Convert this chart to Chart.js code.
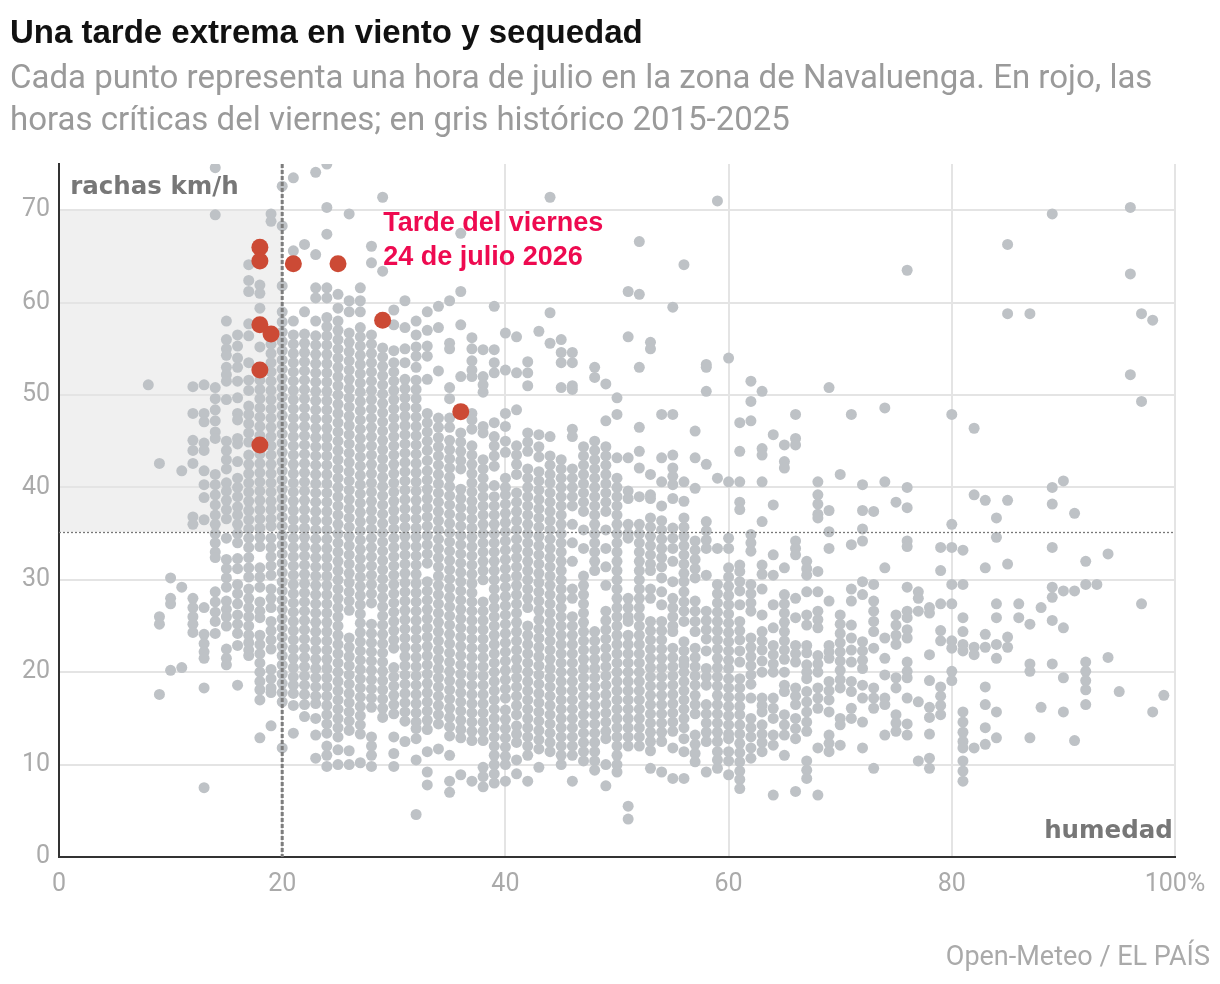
<!DOCTYPE html>
<html><head><meta charset="utf-8">
<script src="https://cdn.jsdelivr.net/npm/chart.js@4.4.1/dist/chart.umd.min.js"></script>
<style>
html,body{margin:0;padding:0;background:#fff;width:1220px;height:984px;overflow:hidden;}
#wrap{position:relative;width:1220px;height:984px;}
canvas{position:absolute;left:0;top:0;}
.t{position:absolute;left:10px;top:13px;font:700 33px "Liberation Sans", Arial, sans-serif;color:#111;white-space:nowrap;}
.s{position:absolute;left:10px;top:56px;font:400 33px/42px Roboto, sans-serif;color:#9a9a9a;white-space:nowrap;}
.src{position:absolute;right:10px;top:940px;font:400 27px Roboto, sans-serif;color:#aaa;white-space:nowrap;}
</style></head>
<body><div id="wrap"><canvas id="c" width="1220" height="984"></canvas>
<div class="t">Una tarde extrema en viento y sequedad</div>
<div class="s">Cada punto representa una hora de julio en la zona de Navaluenga. En rojo, las<br>horas críticas del viernes; en gris histórico 2015-2025</div>
<div class="src">Open-Meteo / EL PAÍS</div></div>
<script>
// ---- DATA: [humidity %, [gusts km/h ...]] ----
const histDry = [
 [8,[51.1]],
 [9,[42.6,26.0,25.2,17.6]],
 [10,[30.2,28.0,27.4,20.2]],
 [11,[41.8,29.2,20.5]],
 [12,[50.9,48.0,45.1,44.0,42.6,36.8,36.0,28.0,27.0,26.0,25.2,24.3]],
 [13,[51.1,48.0,47.1,44.8,44.0,41.8,40.3,38.9,36.5,27.0,24.1,23.1,22.2,21.5,18.3,7.5]],
 [14,[74.6,69.5,50.8,49.6,48.4,47.2,46.0,45.3,41.4,40.3,39.2,38.1,37.0,36.0,35.0,34.0,33.0,32.4,28.7,27.6,26.5,25.5,24.2]],
 [15,[58.0,56.0,55.0,54.3,53.0,52.2,51.5,49.5,45.0,44.0,43.0,42.0,40.5,39.6,38.6,37.6,36.6,34.5,32.2,31.2,30.2,29.2,27.7,26.8,26.0,25.0,22.5,21.5,20.8]],
 [16,[56.5,55.3,54.0,53.0,51.5,49.7,48.0,47.3,45.3,44.7,42.8,41.0,40.0,39.0,37.9,37.0,36.0,35.0,34.0,32.3,31.2,29.5,28.5,27.4,26.2,25.2,24.2,22.9,18.6]],
 [17,[64.1,62.4,61.2,57.7,56.4,53.5,51.6,50.5,48.8,47.9,46.9,45.9,44.9,43.5,42.5,41.5,40.5,39.5,38.5,37.5,36.5,35.5,34.5,33.5,32.4,31.3,30.3,29.0,28.0,27.0,26.0,25.0,24.0,23.2,22.4,21.8]],
 [18,[61.9,61.0,59.4,55.2,51.6,50.6,49.6,48.6,47.6,46.6,45.6,43.6,42.6,41.6,40.6,39.6,38.6,37.6,36.6,35.6,34.6,33.6,31.3,30.3,29.2,27.6,26.6,25.9,24.0,23.0,22.0,21.0,20.0,19.0,18.1,17.0,12.9]],
 [19,[69.6,68.8,55.5,54.5,53.5,52.5,51.5,50.5,49.5,48.5,47.5,46.5,45.5,44.5,43.5,42.5,41.5,40.5,39.5,38.5,37.6,36.6,35.8,34.5,33.5,32.5,31.5,30.5,29.0,28.0,27.0,25.5,24.5,23.5,22.5,20.3,19.3,18.3,17.8,14.2]]
];
const histA = [
 [20,[72.6,68.3,61.8,59.0,57.9,56.8,55.8,54.8,53.8,52.8,51.8,50.8,49.8,48.8,47.8,46.8,45.8,44.8,43.8,42.8,41.8,40.8,39.8,38.8,37.8,36.8,35.8,34.8,33.8,32.8,31.8,30.8,29.8,28.8,27.8,26.8,25.8,24.8,23.8,22.8,21.8,20.8,19.8,18.8,17.8,16.8,11.8]],
 [21,[73.5,65.6,58.0,56.5,55.5,54.5,53.5,52.5,51.5,50.5,49.5,48.5,47.5,46.5,45.5,44.5,43.5,42.5,41.5,40.5,39.5,38.5,37.5,36.5,35.5,34.5,33.5,32.5,31.5,30.5,29.5,28.5,27.5,26.5,25.5,24.5,23.5,22.5,21.5,20.5,19.5,18.6,17.7,16.4,13.4]],
 [22,[66.3,59.0,56.6,55.6,54.6,53.6,52.6,51.6,50.6,49.6,48.6,47.6,46.6,45.6,44.6,43.6,42.6,41.6,40.6,39.6,38.6,37.6,36.6,35.6,34.6,33.6,32.6,31.6,30.6,29.6,28.6,27.6,26.6,25.6,24.6,23.6,22.6,21.6,20.6,19.6,18.6,17.6,16.5,15.2]],
 [23,[74.1,65.2,61.6,60.5,58.0,56.4,55.4,54.4,53.4,52.4,51.4,50.4,49.4,48.4,47.4,46.4,45.4,44.4,43.4,42.4,41.4,40.4,39.4,38.4,37.4,36.4,35.4,34.4,33.4,32.4,31.4,30.4,29.4,28.4,27.4,26.4,25.4,24.4,23.4,22.4,21.4,20.4,19.4,18.4,17.4,16.6,15.0,13.2,10.7]],
 [24,[75.0,70.3,67.4,61.6,60.5,58.4,57.4,56.4,55.4,54.4,53.4,52.4,51.4,50.4,49.4,48.4,47.4,46.4,45.4,44.4,43.4,42.4,41.4,40.4,39.4,38.4,37.4,36.4,35.4,34.4,33.4,32.4,31.4,30.4,29.4,28.4,27.4,26.4,25.4,24.4,23.4,22.4,21.4,20.4,19.4,18.4,17.4,16.4,15.4,14.4,13.4,12.0,11.0,9.8]],
 [25,[60.9,59.4,58.0,57.0,56.0,55.0,54.0,53.0,52.0,51.0,50.0,49.0,48.0,47.0,46.0,45.0,44.0,43.0,42.0,41.0,40.0,39.0,38.0,37.0,36.0,35.0,34.0,33.0,32.0,31.0,30.0,29.0,28.0,27.0,26.0,25.0,24.0,23.0,22.0,21.0,20.0,19.0,18.0,17.0,16.0,15.0,14.0,13.0,11.6,10.0]],
 [26,[69.6,60.2,59.0,56.7,55.7,54.7,53.7,52.7,51.7,50.7,49.7,48.7,47.7,46.7,45.7,44.7,43.7,42.7,41.7,40.7,39.7,38.7,37.7,36.7,35.7,34.7,33.7,32.7,31.7,30.7,29.7,28.7,27.7,26.7,23.7,22.7,21.7,20.7,19.7,18.7,17.7,16.7,15.7,14.7,13.7,11.5,10.0]],
 [27,[61.6,60.2,59.0,57.3,56.3,55.3,54.3,53.3,52.3,51.3,50.3,49.3,48.3,47.3,46.3,45.3,44.3,43.3,42.3,41.3,40.3,39.3,38.3,37.3,36.3,35.3,34.3,33.3,32.3,31.3,30.3,29.3,28.3,27.3,26.3,25.3,24.3,23.3,22.3,21.3,20.3,19.3,18.3,17.3,16.3,15.3,14.3,13.3,10.2]],
 [28,[66.1,64.3,56.5,55.5,54.5,53.5,52.5,51.5,50.5,49.5,48.5,47.5,46.5,45.5,44.5,43.5,42.5,41.5,40.5,39.5,38.5,37.5,36.5,35.5,34.5,33.5,32.5,31.5,30.5,29.5,28.5,27.5,25.2,24.2,23.2,22.2,21.2,20.2,19.2,18.2,17.2,16.2,13.0,12.0,11.0,9.8]],
 [29,[71.4,63.4,55.1,54.1,53.1,52.1,51.1,50.1,49.1,48.1,47.1,46.1,45.1,44.1,43.1,42.1,41.1,40.1,39.1,38.1,37.1,36.1,35.1,34.1,33.1,32.1,31.1,30.1,29.1,28.1,27.1,26.1,25.1,24.1,23.1,22.1,21.1,20.1,19.1,18.1,17.1,16.1,15.1]]
];
const histB = [
 [30,[59.2,57.6,54.8,53.5,52.5,51.5,50.5,49.5,48.5,47.5,46.5,45.5,44.5,43.5,42.5,41.5,40.5,39.5,38.5,37.5,36.5,35.5,34.5,33.5,32.5,31.5,30.5,29.5,28.5,27.5,26.5,25.5,24.5,23.5,22.6,20.5,19.5,18.5,17.5,16.5,15.5,13.0,11.2,9.8]],
 [31,[60.2,57.3,55.0,53.5,51.7,50.7,49.7,48.7,47.7,46.7,45.7,44.7,43.7,42.7,41.7,40.7,39.7,38.7,37.7,36.7,35.7,34.7,33.7,32.7,31.7,30.7,29.7,28.7,27.7,26.7,25.7,24.7,23.7,22.7,21.7,20.7,19.7,18.7,17.7,16.7,15.7,14.7,12.5]],
 [32,[58.0,56.5,55.2,54.2,53.0,51.6,50.6,49.6,48.6,47.6,46.6,45.6,44.6,43.6,42.6,41.6,40.6,39.6,38.6,37.6,36.6,35.6,34.6,33.6,32.6,31.6,30.6,29.6,28.6,27.6,26.6,25.6,24.6,23.6,22.6,21.6,20.6,19.6,18.6,17.6,16.6,15.6,14.6,13.9,12.8,10.5,4.6]],
 [33,[59.0,57.0,55.3,54.2,51.7,48.0,47.0,46.0,45.0,44.0,42.9,41.8,40.8,39.8,38.8,37.8,36.8,35.8,34.8,33.8,32.8,31.8,29.8,28.8,27.8,26.8,25.8,24.8,23.8,22.8,21.8,20.8,19.8,18.8,17.8,16.8,15.8,14.8,13.8,11.4,9.2,7.8]],
 [34,[59.6,57.3,52.6,47.5,46.5,45.4,44.4,43.4,42.4,41.4,40.4,39.4,38.4,37.4,36.4,35.4,34.4,33.4,32.4,31.4,30.4,29.4,28.4,27.4,26.4,25.4,24.4,23.4,22.4,21.4,20.4,19.4,18.4,17.4,16.4,15.4,14.4,11.7]],
 [35,[60.2,55.6,55.0,50.8,49.6,47.5,46.5,45.1,44.1,43.1,42.1,41.1,40.1,39.1,38.1,37.1,36.1,35.1,34.1,33.1,32.1,31.1,30.1,29.1,28.1,27.1,26.1,25.1,24.1,23.1,22.1,21.1,20.1,19.1,18.1,17.1,16.1,15.1,14.1,13.1,11.0,8.2,7.0]],
 [36,[67.5,61.2,57.6,52.0,45.9,44.9,43.9,42.9,42.0,39.8,38.8,37.8,36.8,35.8,34.8,33.8,32.8,31.8,30.8,29.8,28.8,27.8,26.8,25.8,24.8,23.8,22.8,21.8,20.8,19.8,18.8,17.8,16.8,15.8,14.8,13.8,12.9,8.9]],
 [37,[56.2,55.0,53.7,52.7,52.0,48.0,47.3,46.3,44.5,43.5,42.5,41.5,40.5,39.5,38.5,37.6,36.6,35.6,34.6,33.6,32.6,31.6,30.6,29.6,28.6,27.6,26.6,25.6,24.6,23.6,22.6,21.6,20.6,19.6,18.6,17.6,16.6,15.6,14.6,13.6,12.6,8.2]],
 [38,[54.9,52.0,51.1,50.3,46.6,45.9,43.0,42.0,41.0,40.0,39.0,38.0,37.0,36.0,35.0,34.0,33.0,32.0,31.0,30.0,27.6,26.6,25.6,24.6,23.6,22.6,21.6,20.6,19.6,18.6,17.6,16.6,15.6,14.6,13.6,12.6,9.7,8.7,7.6]],
 [39,[59.6,54.9,53.5,52.4,47.0,45.5,44.5,43.4,42.3,40.2,39.0,38.0,37.0,36.0,35.0,34.0,33.0,32.0,31.0,30.0,29.0,28.0,27.0,26.0,25.0,24.0,23.0,22.0,21.0,20.0,19.0,18.0,17.0,16.0,15.0,14.0,13.0,12.0,11.0,10.0,9.0,8.0]]
];
const histC = [
 [40,[56.7,52.7,48.0,46.6,45.0,43.8,41.0,40.0,39.2,38.2,37.2,36.2,35.2,34.2,33.2,32.2,31.2,30.2,29.2,28.2,27.2,26.2,25.2,24.2,23.2,22.2,21.2,20.2,19.2,18.2,17.2,15.9,14.9,13.9,12.9,11.9,10.9,10.0,8.2]],
 [41,[56.3,52.4,48.4,44.5,43.5,42.5,41.4,39.4,38.4,37.4,36.4,35.4,34.4,33.4,32.4,31.4,30.4,29.4,28.4,27.4,26.4,25.4,24.4,23.4,22.4,21.4,20.4,19.4,18.4,17.4,16.4,15.4,14.2,13.3,12.4,10.5,9.0]],
 [42,[53.6,52.4,51.0,45.9,44.9,43.9,42.0,41.0,40.0,39.0,38.0,37.0,36.0,35.0,34.0,33.0,32.0,31.0,30.0,29.0,28.0,27.0,25.0,24.0,23.0,22.0,21.0,20.0,19.0,18.0,17.0,16.0,15.0,14.0,13.0,12.0,11.0,8.2]],
 [43,[56.9,45.7,44.4,43.3,41.7,40.7,39.7,38.7,37.7,36.7,35.7,34.7,33.7,32.7,31.7,30.7,29.7,28.7,27.7,26.7,25.7,24.7,23.7,22.7,21.7,20.7,19.7,18.7,17.7,16.7,15.7,14.7,13.7,12.7,11.7,9.7]],
 [44,[71.4,58.9,55.6,45.5,43.4,42.4,41.4,40.5,39.4,38.4,37.4,36.4,35.4,34.4,33.4,32.4,31.4,30.4,29.4,28.4,27.4,26.4,25.4,24.4,23.4,22.4,21.4,20.4,19.4,18.4,17.4,16.4,15.4,14.4,13.4,12.4,11.4]],
 [45,[56.0,54.6,53.5,50.8,43.0,42.0,41.0,40.0,39.0,38.0,37.0,36.0,35.0,34.0,33.0,32.0,31.0,30.0,29.0,28.0,27.0,26.0,25.0,24.0,23.0,22.0,21.0,20.0,19.0,18.0,17.0,16.0,15.0,14.0,13.0,12.0,11.0,10.0]],
 [46,[54.6,53.5,51.0,50.6,46.3,45.5,42.0,41.0,40.0,39.0,38.0,36.0,34.0,32.0,29.0,28.0,26.0,25.0,24.0,23.0,22.0,21.0,20.0,19.0,18.0,17.0,16.0,15.0,14.0,13.0,12.0,11.0,8.2]],
 [47,[44.4,43.4,42.4,41.4,40.4,39.4,38.4,37.4,35.4,33.4,30.4,29.4,28.4,27.4,26.4,25.4,24.4,23.4,22.4,21.4,20.4,19.4,18.4,17.4,16.4,15.4,14.4,13.4,12.4,11.4,10.4]],
 [48,[53.0,51.9,45.0,44.0,43.0,42.0,41.0,40.0,39.0,38.0,37.0,36.0,35.0,34.0,33.0,32.0,31.0,24.4,23.4,22.4,21.4,20.4,19.4,18.4,17.4,16.4,15.4,14.4,13.4,12.4,11.4,10.4,9.4]],
 [49,[51.2,47.2,44.4,43.4,42.4,41.4,40.4,39.4,38.4,37.4,35.4,33.4,31.4,29.4,26.6,25.6,24.6,23.6,22.6,21.6,20.6,19.6,18.6,17.6,16.6,15.6,14.6,13.6,12.8,10.0,7.7]]
];
const histD = [
 [50,[49.7,47.9,43.2,41.0,40.0,39.0,38.0,37.0,36.0,35.0,34.0,33.0,32.0,31.0,30.0,29.0,28.0,27.0,26.0,25.0,24.0,23.0,22.0,21.0,20.0,19.0,18.0,17.0,16.0,15.0,14.0,13.0,12.0,11.0,10.0,9.2]],
 [51,[61.2,56.3,43.2,39.6,38.8,36.0,35.0,34.5,28.0,27.0,26.0,25.5,24.0,23.0,22.0,21.0,20.0,19.0,18.0,17.0,16.0,15.0,14.0,13.0,12.0,5.5,4.1]],
 [52,[66.6,60.9,53.0,46.5,43.9,42.1,39.0,36.0,35.0,34.0,33.0,32.0,31.0,30.0,29.0,28.0,27.0,26.0,25.0,24.0,23.0,22.0,21.0,20.0,19.0,18.0,17.0,16.0,15.0,14.0,13.0,12.0]],
 [53,[55.7,55.0,41.4,39.2,38.8,36.7,35.7,34.7,33.7,32.7,31.7,31.0,29.0,28.0,25.5,24.5,23.5,22.5,21.5,20.5,19.5,18.5,17.5,16.5,15.5,14.5,13.5,12.5,11.5,9.6]],
 [54,[47.9,43.2,40.6,38.0,36.4,35.4,34.4,33.4,32.4,31.4,30.2,28.7,27.3,25.5,24.5,23.5,22.5,21.5,20.5,19.5,18.5,17.5,16.5,15.5,14.5,13.5,12.5,9.2]],
 [55,[59.5,47.9,43.5,42.1,41.2,40.3,38.8,35.6,34.5,33.4,32.0,29.8,28.0,27.0,26.0,25.0,24.4,22.6,21.6,20.6,19.6,18.6,17.6,16.6,15.6,14.6,13.6,11.8,8.5]],
 [56,[64.1,40.6,38.5,36.7,35.7,34.7,33.7,32.7,31.7,30.7,29.8,28.7,27.6,26.6,25.5,23.3,22.3,21.3,20.8,20.0,19.0,18.0,17.0,16.0,15.0,14.0,12.8,11.4,8.5]],
 [57,[46.1,43.2,39.9,34.2,33.2,32.2,31.2,30.2,27.7,26.6,25.5,24.4,22.6,21.6,20.6,19.6,18.6,17.5,16.5,15.5,13.2,12.2,11.2,10.3]],
 [58,[53.3,53.0,50.4,42.5,36.3,35.3,34.3,33.4,30.5,26.6,25.6,24.6,23.6,22.3,20.4,19.5,18.6,16.5,15.5,14.5,13.5,12.5,9.2]],
 [59,[71.0,41.0,33.4,29.5,28.5,27.5,26.5,25.5,24.5,23.5,22.5,21.5,20.5,19.5,18.5,17.5,16.5,15.5,14.5,13.5,12.5,11.4,10.5,9.6]]
];
const histE = [
 [60,[54.0,40.6,34.5,33.4,31.3,30.3,29.3,28.3,27.3,26.3,25.3,24.3,23.3,22.3,21.3,20.4,19.3,18.3,17.3,16.3,15.3,14.3,13.3,12.8,11.4,10.4,8.9]],
 [61,[47.0,43.9,40.6,38.4,37.6,31.6,30.9,29.8,28.8,27.3,25.5,24.5,23.5,22.3,21.1,19.3,18.3,17.3,16.3,15.4,14.3,13.3,12.3,11.3,10.3,9.3,8.4,7.4]],
 [62,[51.5,49.3,47.2,34.9,34.0,33.1,29.5,28.5,27.5,26.6,23.7,22.7,21.7,20.7,19.7,18.7,17.2,15.0,14.0,13.0,11.8,10.7]],
 [63,[50.4,44.2,43.5,40.6,36.3,31.6,30.6,29.0,26.2,24.4,23.4,22.4,21.2,20.0,17.2,16.4,15.7,14.3,13.3,12.4,11.4]],
 [64,[45.7,38.1,32.7,30.5,27.3,24.8,22.9,21.9,20.9,20.0,17.2,16.1,15.0,13.2,12.1,6.7]],
 [65,[44.6,42.8,42.1,31.3,28.4,27.4,26.4,25.4,24.4,23.4,22.4,21.4,20.0,18.6,17.9,15.4,14.3,13.2,11.0]],
 [66,[47.9,45.3,44.6,34.2,33.4,32.7,28.0,25.9,22.9,22.0,21.1,18.3,17.4,16.5,15.0,13.9,12.8,7.1]],
 [67,[32.0,31.2,30.5,28.7,26.2,25.1,22.9,22.1,20.8,20.0,19.3,17.9,16.8,15.7,14.6,13.6,10.4,9.4,8.5]],
 [68,[40.6,39.2,38.2,37.1,36.7,30.9,28.7,26.6,25.7,24.8,21.8,20.9,20.0,18.3,17.2,16.1,11.8,6.7]],
 [69,[50.8,37.5,35.2,33.4,27.7,22.9,22.2,21.5,19.0,18.0,17.0,15.7,13.2,12.3,11.4]],
 [70,[41.4,26.2,25.2,24.2,23.2,22.2,21.2,20.2,19.2,18.3,15.0,14.3,12.1]],
 [71,[47.9,33.8,29.0,27.7,25.1,23.7,22.4,21.1,19.0,17.9,16.1,15.0]],
 [72,[40.3,37.5,35.5,34.2,29.8,28.4,23.3,22.3,21.3,20.4,18.6,17.2,14.6,11.8]],
 [73,[37.4,29.5,27.7,26.6,25.5,24.4,22.6,18.3,17.2,16.1,9.6]],
 [74,[48.6,40.6,31.3,23.7,21.5,19.7,17.2,16.5,13.2]]
];
const histHumid = [
 [75,[38.4,26.2,25.1,24.0,23.0,19.4,18.3,15.4,14.5,13.6]],
 [76,[63.5,40.0,37.8,34.2,33.6,29.2,26.6,25.9,24.6,23.7,21.1,20.1,19.4,17.2,14.4,13.2]],
 [77,[28.7,28.0,26.6,16.8,10.4]],
 [78,[27.0,26.4,21.9,19.1,16.2,15.1,13.3,10.7,9.6]],
 [79,[33.5,31.0,27.4,24.5,23.4,18.4,17.4,16.4,15.4]],
 [80,[47.9,36.0,33.5,29.5,27.4,23.4,22.6,20.1,19.1]],
 [81,[33.2,29.5,25.9,24.4,23.0,22.3,15.7,14.6,13.5,12.5,11.8,10.4,9.3,8.2]],
 [82,[46.4,39.2,22.7,21.9,11.8]],
 [83,[38.6,31.3,24.1,22.7,18.4,16.5,14.0,12.2]],
 [84,[36.7,34.6,27.4,25.9,23.0,21.5,15.7,12.9]],
 [85,[66.3,58.8,38.6,31.7,23.8,22.7]],
 [86,[27.4,25.9]],
 [87,[58.8,25.2,20.9,20.1,12.9]],
 [88,[27.0,16.2]],
 [89,[69.6,40.0,38.2,33.5,29.2,28.1,25.6,20.9]],
 [90,[40.7,28.8,24.8,19.4,15.7]],
 [91,[37.2,28.8,12.6]],
 [92,[32.0,29.5,21.1,20.1,19.1,18.1,16.5]],
 [93,[29.5]],
 [94,[32.8,21.6]],
 [95,[17.9]],
 [96,[70.3,63.1,52.2]],
 [97,[58.8,49.3,27.4]],
 [98,[58.1,15.7]],
 [99,[17.5]]
];
// Friday 24 July 2026 critical hours
const fridayHumidity = [18, 18, 21, 25, 29, 18, 19, 18, 18, 36];
const fridayGusts    = [66.0, 64.5, 64.2, 64.2, 58.1, 57.6, 56.6, 52.7, 44.6, 48.2];
// thresholds / axis ticks
const dryLimit = 20;      // % humidity
const gustLimit = 35.2;   // km/h
const shadeTop = 70;
const xTicks = [0, 20, 40, 60, 80, 100];
const yTicks = [0, 10, 20, 30, 40, 50, 60, 70];

const grayPoints = [];
[histDry, histA, histB, histC, histD, histE, histHumid].forEach(band =>
  band.forEach(([h, gs]) => gs.forEach(g => grayPoints.push({x: h, y: g}))));
const redPoints = fridayHumidity.map((h, i) => ({x: h, y: fridayGusts[i]}));

const FONT = 'Roboto, "Noto Sans", sans-serif';

const decor = {
  id: 'decor',
  beforeDraw(chart) {
    const {ctx, scales: {x, y}} = chart;
    const l = x.getPixelForValue(0), r = x.getPixelForValue(dryLimit);
    const t = y.getPixelForValue(shadeTop), b = y.getPixelForValue(gustLimit);
    ctx.save();
    ctx.fillStyle = '#f0f0f0';
    ctx.fillRect(l, t, r - l, b - t);
    ctx.restore();
  },
  afterDatasetsDraw(chart) {
    const {ctx, chartArea: a, scales: {x, y}} = chart;
    ctx.save();
    ctx.strokeStyle = '#777';
    ctx.lineWidth = 1.3;
    ctx.setLineDash([2, 2]);
    const yy = Math.round(y.getPixelForValue(gustLimit)) + 0.5;
    ctx.beginPath(); ctx.moveTo(a.left, yy); ctx.lineTo(a.right, yy); ctx.stroke();
    ctx.strokeStyle = '#7d7d7d';
    ctx.lineWidth = 3;
    ctx.setLineDash([4, 2]);
    const xx = x.getPixelForValue(dryLimit);
    ctx.beginPath(); ctx.moveTo(xx, a.top); ctx.lineTo(xx, a.bottom); ctx.stroke();
    ctx.restore();
  },
  afterDraw(chart) {
    const {ctx, scales: {x, y}} = chart;
    ctx.save();
    ctx.textBaseline = 'alphabetic';
    ctx.fillStyle = '#777';
    ctx.font = '700 24.5px "DejaVu Sans", sans-serif';
    ctx.textAlign = 'left';
    ctx.fillText('rachas km/h', x.getPixelForValue(1), y.getPixelForValue(71.7));
    ctx.textAlign = 'right';
    ctx.fillText('humedad', x.getPixelForValue(99.8), y.getPixelForValue(2.1));
    ctx.fillStyle = '#ee0a50';
    ctx.font = '700 27px "Liberation Sans", Arial, sans-serif';
    ctx.textAlign = 'left';
    ctx.fillText('Tarde del viernes', x.getPixelForValue(29.05), y.getPixelForValue(67.8));
    ctx.fillText('24 de julio 2026', x.getPixelForValue(29.05), y.getPixelForValue(64.1));
    ctx.restore();
  }
};

new Chart(document.getElementById('c'), {
  type: 'scatter',
  data: {
    datasets: [
      {data: redPoints, backgroundColor: '#cc4a35', borderWidth: 0, pointRadius: 8.5, order: 0},
      {data: grayPoints, backgroundColor: '#bec2c6', borderWidth: 0, pointRadius: 5.5, order: 1}
    ]
  },
  options: {
    responsive: false,
    devicePixelRatio: 1,
    animation: false,
    events: [],
    layout: {padding: {left: 0, top: 164, right: 45, bottom: 0}},
    plugins: {legend: {display: false}, tooltip: {enabled: false}},
    scales: {
      x: {
        type: 'linear', min: 0, max: 100,
        afterFit: s => { s.height = 127; },
        afterBuildTicks: s => { s.ticks = xTicks.map(v => ({value: v})); },
        ticks: {color: '#aaa', font: {family: FONT, size: 25}, padding: 13,
                callback: v => v === 100 ? '100%' : String(v)},
        grid: {color: c => (c.tick && c.tick.value === 0) ? 'rgba(0,0,0,0)' : '#e4e4e4', lineWidth: 2, drawTicks: false},
        border: {color: '#333', width: 2}
      },
      y: {
        type: 'linear', min: 0, max: 75,
        afterFit: s => { s.width = 59; },
        afterBuildTicks: s => { s.ticks = yTicks.map(v => ({value: v})); },
        ticks: {color: '#aaa', font: {family: FONT, size: 25}, padding: 9},
        grid: {color: c => (c.tick && c.tick.value === 0) ? 'rgba(0,0,0,0)' : '#e4e4e4', lineWidth: 2, drawTicks: false},
        border: {color: '#333', width: 2}
      }
    }
  },
  plugins: [decor]
});
</script>
</body></html>
